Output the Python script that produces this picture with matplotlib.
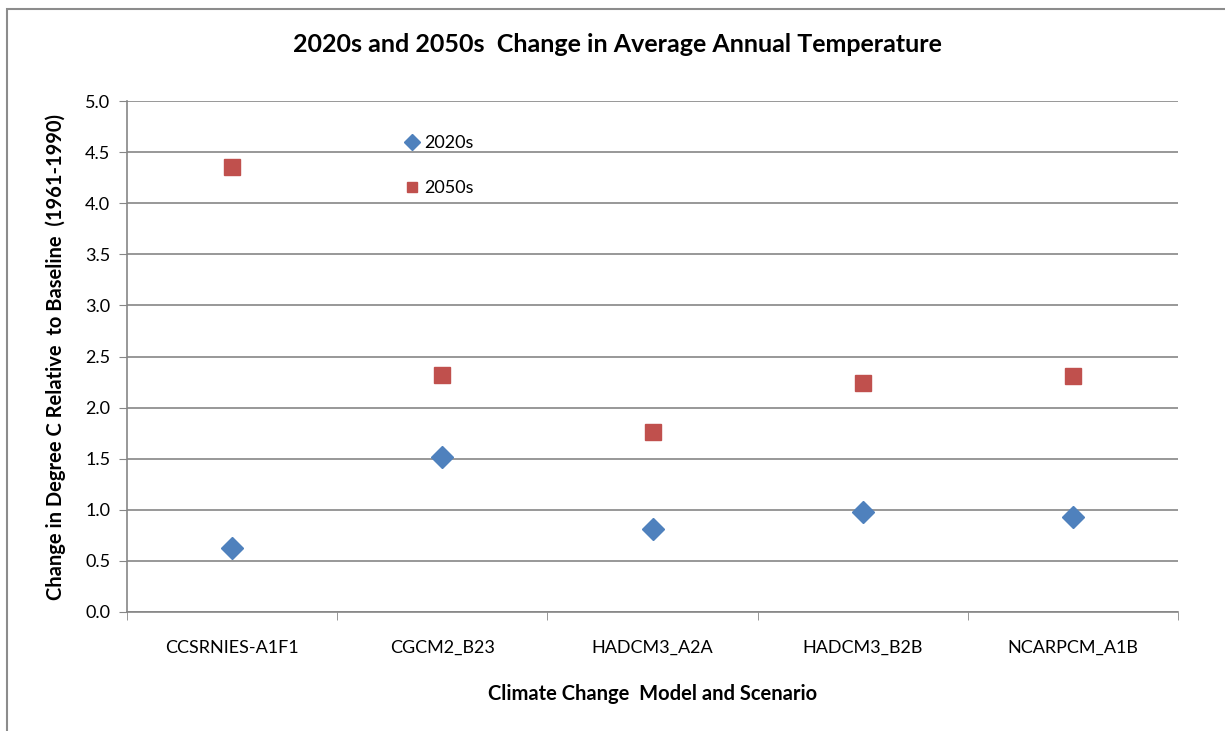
import numpy as np
import matplotlib.pyplot as plt
from matplotlib.patches import Rectangle

plt.rcParams['font.family'] = ['Lato', 'DejaVu Sans']

# data
models = ['CCSRNIES-A1F1', 'CGCM2_B23', 'HADCM3_A2A', 'HADCM3_B2B', 'NCARPCM_A1B']
t2020s = [0.63, 1.52, 0.81, 0.98, 0.93]
t2050s = [4.35, 2.32, 1.76, 2.24, 2.31]

fig = plt.figure(figsize=(12.25, 7.31), dpi=100)
ax = fig.add_axes([0.1037, 0.1628, 0.8580, 0.6990])

# outer chart border (Excel style)
fig.patches.append(Rectangle((7/1225, -0.1), 1.2, 1 - 9/731 + 0.1, transform=fig.transFigure,
                             fill=False, ec='#8c8c8c', lw=1.5))

x = np.arange(len(models))
ax.plot(x, t2020s, 'D', color='#4F81BD', ms=11, mec='#4F81BD', label='2020s', ls='none')
ax.plot(x, t2050s, 's', color='#C0504D', ms=11, mec='#C0504D', label='2050s', ls='none')

ax.set_xlim(-0.5, len(models) - 0.5)
ax.set_ylim(0, 5)
ax.set_yticks(np.arange(0, 5.01, 0.5))
ax.set_yticklabels(['%.1f' % v for v in np.arange(0, 5.01, 0.5)], fontsize=13)
ax.set_xticks(x)
ax.set_xticklabels(models, fontsize=13)
ax.tick_params(axis='x', length=0, pad=20)
ax.set_xticks(np.arange(-0.5, len(models)), minor=True)
ax.tick_params(axis='x', which='minor', length=6, color='#868686', direction='out')
ax.tick_params(axis='y', length=6, color='#868686', direction='out', pad=6)

ax.grid(axis='y', color='#868686', lw=1.2)
ax.set_axisbelow(True)
for s in ['top', 'right']:
    ax.spines[s].set_visible(False)
for s in ['left', 'bottom']:
    ax.spines[s].set_color('#868686')
    ax.spines[s].set_linewidth(1.2)

# title is centred on the chart, not on the plot area
fig.text(617/1225, 1 - 44/731, '2020s and 2050s  Change in Average Annual Temperature',
         fontsize=18, fontweight='bold', ha='center', va='center')
ax.set_ylabel('Change in Degree C Relative  to Baseline  (1961-1990)', fontsize=14.5,
              fontweight='bold', labelpad=14)
ax.set_xlabel('Climate Change  Model and Scenario', fontsize=14.5, fontweight='bold',
              labelpad=20)

ax.legend(loc='upper left', bbox_to_anchor=(0.245, 0.965), frameon=False, fontsize=13,
          labelspacing=1.6, handletextpad=0.1, handlelength=1.2, markerscale=0.7)

fig.savefig('out.png', dpi=100)
